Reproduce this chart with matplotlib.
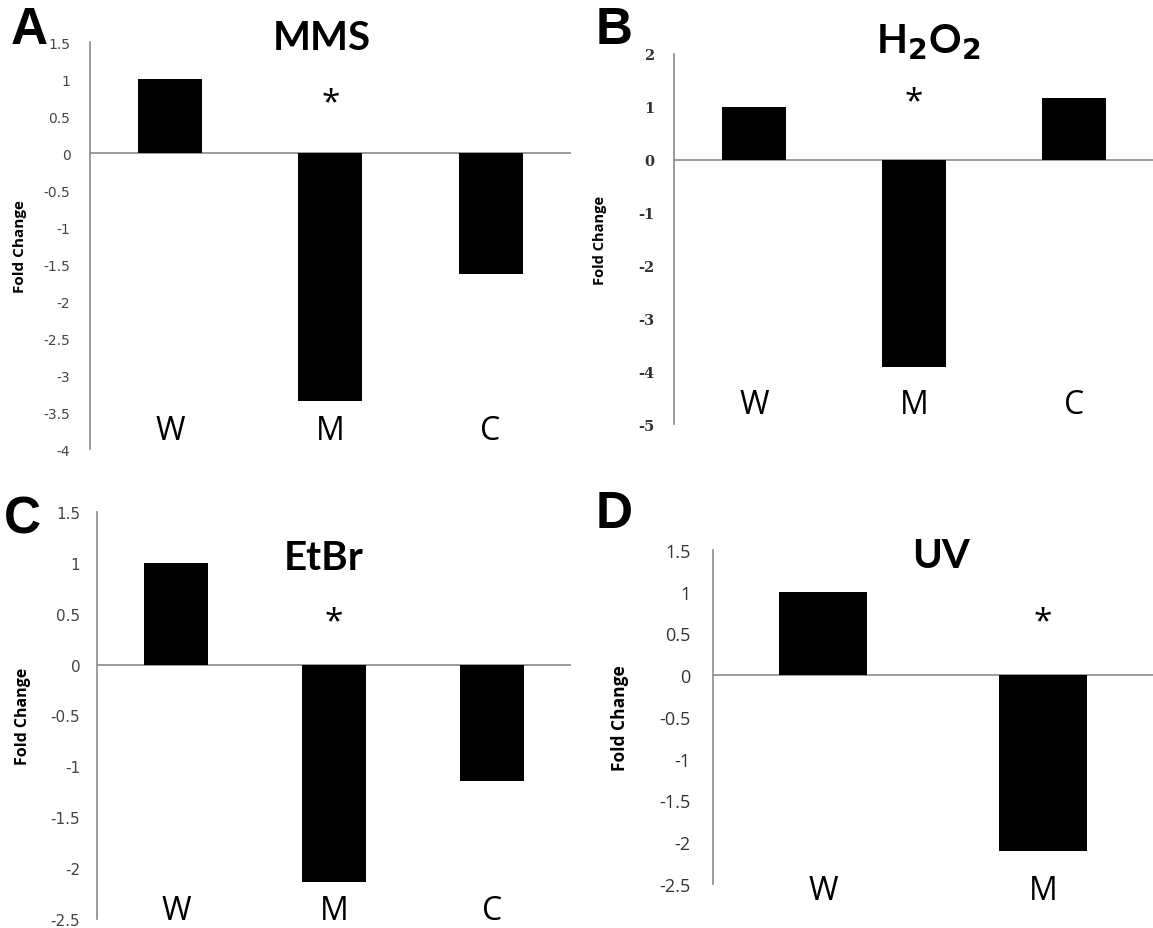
import numpy as np
import matplotlib.pyplot as plt
from matplotlib import transforms

# data
cats = ['W', 'M', 'C']
uv_cats = ['W', 'M']
mms = [1.0, -3.35, -1.64]
h2o2 = [1.0, -3.92, 1.17]
etbr = [1.0, -2.14, -1.14]
uv = [1.0, -2.10]

# y where the significance star sits (data units, over M)
star_y = {'A': 0.68, 'B': 1.09, 'C': 0.42, 'D': 0.64}

fig = plt.figure(figsize=(11.53, 9.29), dpi=100)

# axes rectangles in figure fraction
axA = fig.add_axes([0.078, 0.5156, 0.417, 0.4381])
axB = fig.add_axes([0.5846, 0.5425, 0.4163, 0.3983])
axC = fig.add_axes([0.0841, 0.0097, 0.4111, 0.4381])
axD = fig.add_axes([0.6184, 0.0474, 0.3816, 0.3595])


def panel(ax, labels, vals, ylim, step, tickfont, pad, labpos, catpos, ylab_size):
    x = np.arange(len(labels))
    ax.bar(x, vals, width=0.4, color='black', zorder=3)
    ax.axhline(0, color='#8a8a8a', lw=1.2, zorder=2)
    ax.set_xlim(-0.5, len(labels) - 0.5)
    ax.set_ylim(*ylim)
    ticks = np.arange(ylim[0], ylim[1] + step / 2, step)
    ax.set_yticks(ticks)
    ax.set_yticklabels(['%g' % t for t in ticks], **tickfont)
    ax.tick_params(axis='y', length=0, pad=pad)
    ax.set_xticks([])
    for s in ['top', 'right', 'bottom']:
        ax.spines[s].set_visible(False)
    ax.spines['left'].set_color('#8a8a8a')
    ax.spines['left'].set_linewidth(1.2)
    ax.set_ylabel('Fold Change', fontsize=ylab_size, fontweight='bold',
                  family='Open Sans')
    ax.yaxis.set_label_coords(labpos, 0.5)
    trans = transforms.blended_transform_factory(ax.transData, ax.transAxes)
    for i, lab in enumerate(labels):
        ax.text(i, catpos, lab, transform=trans, ha='center', va='center',
                fontsize=23, family='Open Sans')


narrow = ['Liberation Sans Narrow', 'DejaVu Sans']

panel(axA, cats, mms, (-4, 1.5), 0.5,
      dict(fontsize=10, family=narrow, color='#444444'), 14,
      -0.13, 0.045, 11)
panel(axB, cats, h2o2, (-5, 2), 1,
      dict(fontsize=10.5, family='DejaVu Serif', fontweight='bold', color='#333333'), 14,
      -0.14, 0.054, 10.5)
panel(axC, cats, etbr, (-2.5, 1.5), 0.5,
      dict(fontsize=11, family=narrow, color='#444444'), 12,
      -0.14, 0.02, 11.5)
panel(axD, uv_cats, uv, (-2.5, 1.5), 0.5,
      dict(fontsize=13, family='Open Sans', color='#333333'), 16,
      -0.19, -0.02, 12.5)

# significance stars over M
for ax, key in [(axA, 'A'), (axB, 'B'), (axC, 'C'), (axD, 'D')]:
    ax.text(1, star_y[key], '*', ha='center', va='center', fontsize=24,
            family='Open Sans')

# panel titles
tfont = dict(fontsize=29, fontweight='bold', family='Lato', ha='center', va='center')
fig.text(322 / 1153, 1 - 38 / 929, 'MMS', **tfont)
fig.text(928 / 1153, 1 - 42 / 929, r'H$_\mathbf{2}$O$_\mathbf{2}$', **tfont)
fig.text(324 / 1153, 1 - 558 / 929, 'EtBr', **tfont)
fig.text(941 / 1153, 1 - 556 / 929, 'UV', **tfont)

# panel letters
lfont = dict(fontsize=37, fontweight='bold', family='Liberation Sans', ha='center', va='center')
fig.text(29 / 1153, 1 - 30 / 929, 'A', **lfont)
fig.text(614 / 1153, 1 - 30 / 929, 'B', **lfont)
fig.text(22 / 1153, 1 - 520 / 929, 'C', **lfont)
fig.text(614 / 1153, 1 - 515 / 929, 'D', **lfont)

plt.savefig('out.png', dpi=100)
plt.close('all')
